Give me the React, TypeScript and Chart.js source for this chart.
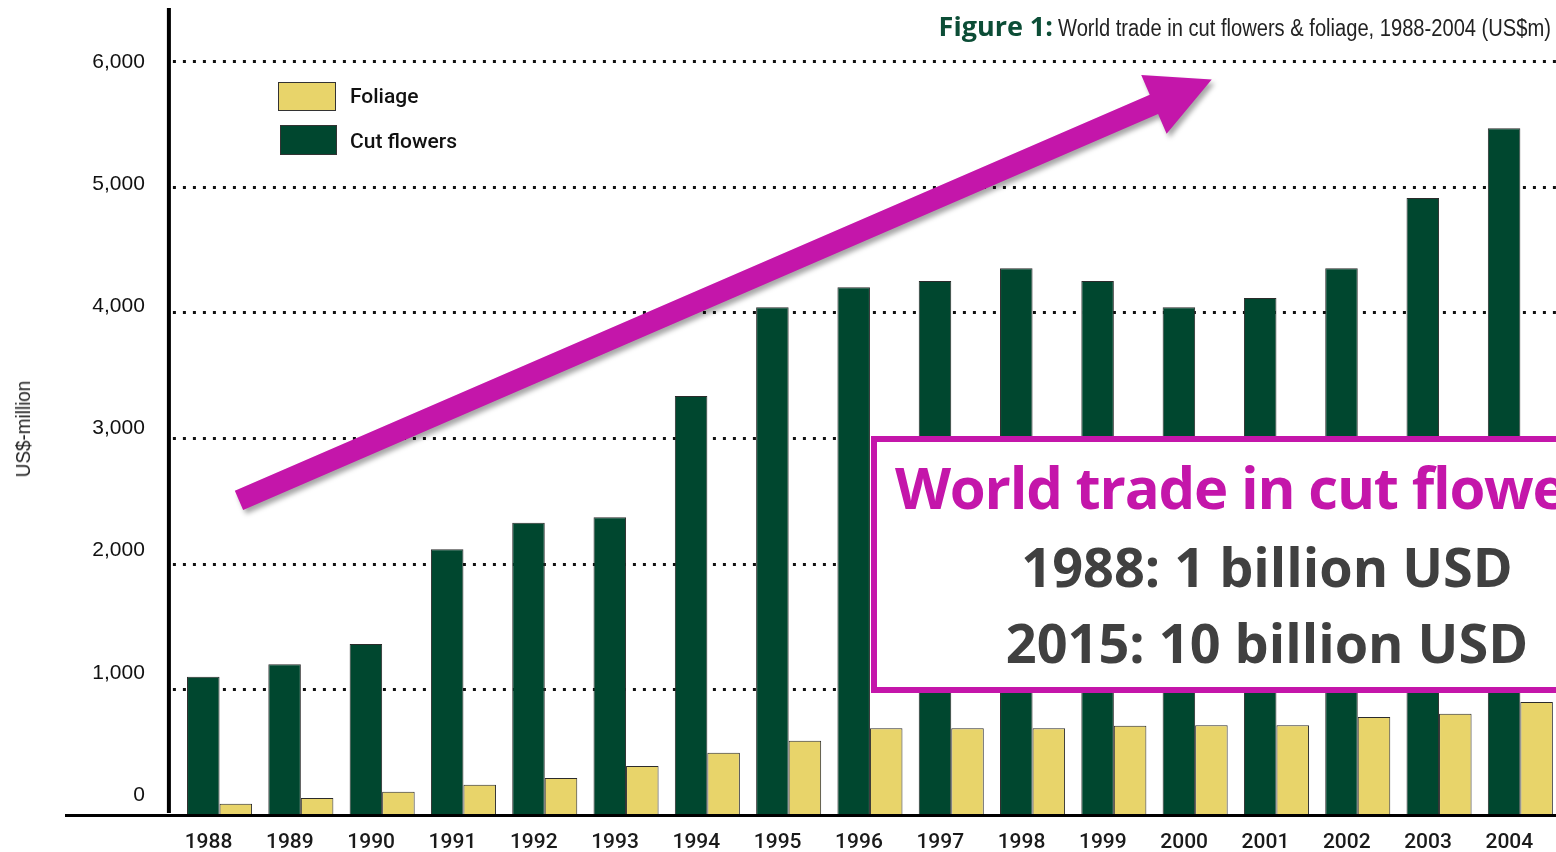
import React, { useEffect, useRef } from "react";
import { Chart, registerables } from "chart.js";

Chart.register(...registerables);

// ---------- data ----------
const YEARS = ["1988", "1989", "1990", "1991", "1992", "1993", "1994", "1995", "1996", "1997", "1998", "1999", "2000", "2001", "2002", "2003", "2004"];
const CUT_FLOWERS = [1100, 1200, 1360, 2115, 2325, 2370, 3335, 4040, 4200, 4250, 4350, 4250, 4040, 4115, 4350, 4910, 5465];
const FOLIAGE = [90, 135, 185, 240, 295, 390, 495, 590, 690, 690, 690, 710, 715, 715, 780, 805, 900];
const Y_GRID_VALUES = [1000, 2000, 3000, 4000, 5000, 6000];
const Y_TICK_LABELS = [0, 1000, 2000, 3000, 4000, 5000, 6000];
// arrow annotation in data space (category index, value)
const ARROW_FROM = { x: 0.239, y: 2504 };
const ARROW_TO = { x: 12.204, y: 5854 };

// ---------- styles ----------
const DARK = "#00472f";
const YELLOW = "#e8d46a";
const MAGENTA = "#c416aa";
const BAR_BORDER = "#2b2b2b";

const gridPlugin = {
  id: "dottedGrid",
  beforeDatasetsDraw(chart: any) {
    const { ctx, scales, chartArea } = chart;
    const y = scales.y;
    const axisX = chartArea.left - 10;
    ctx.save();
    ctx.strokeStyle = "#111";
    ctx.lineWidth = 3;
    ctx.setLineDash([3, 7]);
    for (const v of Y_GRID_VALUES) {
      const py = Math.round(y.getPixelForValue(v)) + 0.5;
      ctx.beginPath();
      ctx.moveTo(axisX + 4, py);
      ctx.lineTo(chart.width, py);
      ctx.stroke();
    }
    ctx.restore();
  },
  afterDatasetsDraw(chart: any) {
    const { ctx, scales, chartArea } = chart;
    const y = scales.y;
    const axisX = chartArea.left - 10;
    const base = y.getPixelForValue(0);
    ctx.save();
    ctx.fillStyle = "#000";
    ctx.fillRect(axisX - 2, chartArea.top, 4, base - chartArea.top - 2);
    ctx.fillRect(65, base - 1, chart.width, 3);
    ctx.restore();
  },
};

const arrowPlugin = {
  id: "arrow",
  afterDatasetsDraw(chart: any) {
    const { ctx, scales } = chart;
    const x = scales.x;
    const y = scales.y;
    const tx = x.getPixelForValue(ARROW_FROM.x);
    const ty = y.getPixelForValue(ARROW_FROM.y);
    const hx = x.getPixelForValue(ARROW_TO.x);
    const hy = y.getPixelForValue(ARROW_TO.y);
    const dx = hx - tx;
    const dy = hy - ty;
    const len = Math.hypot(dx, dy);
    const ux = dx / len;
    const uy = dy / len;
    const nx = -uy;
    const ny = ux;
    const headLen = 63;
    const headHalf = 32;
    const shaftHalf = 10.5;
    const bx = hx - ux * headLen;
    const by = hy - uy * headLen;
    ctx.save();
    ctx.shadowColor = "rgba(0,0,0,0.35)";
    ctx.shadowBlur = 5;
    ctx.shadowOffsetX = 3;
    ctx.shadowOffsetY = 4;
    ctx.fillStyle = MAGENTA;
    ctx.beginPath();
    ctx.moveTo(tx + nx * shaftHalf, ty + ny * shaftHalf);
    ctx.lineTo(bx + nx * shaftHalf, by + ny * shaftHalf);
    ctx.lineTo(bx + nx * headHalf, by + ny * headHalf);
    ctx.lineTo(hx, hy);
    ctx.lineTo(bx - nx * headHalf, by - ny * headHalf);
    ctx.lineTo(bx - nx * shaftHalf, by - ny * shaftHalf);
    ctx.lineTo(tx - nx * shaftHalf, ty - ny * shaftHalf);
    ctx.closePath();
    ctx.fill();
    ctx.restore();
  },
};

export default function App() {
  const ref = useRef<HTMLCanvasElement | null>(null);

  useEffect(() => {
    if (!ref.current) return;
    const chart = new Chart(ref.current, {
      type: "bar",
      data: {
        labels: YEARS,
        datasets: [
          {
            label: "Cut flowers",
            data: CUT_FLOWERS,
            backgroundColor: DARK,
            borderColor: BAR_BORDER,
            borderWidth: 1,
            categoryPercentage: 0.8,
            barPercentage: 1,
          },
          {
            label: "Foliage",
            data: FOLIAGE,
            backgroundColor: YELLOW,
            borderColor: BAR_BORDER,
            borderWidth: 1,
            categoryPercentage: 0.8,
            barPercentage: 1,
          },
        ],
      },
      options: {
        animation: false,
        responsive: false,
        maintainAspectRatio: false,
        layout: { padding: { top: 8, left: 0, right: 0, bottom: 0 } },
        plugins: { legend: { display: false }, tooltip: { enabled: false } },
        scales: {
          x: {
            type: "category",
            grid: { display: false },
            border: { display: false },
            ticks: {
              font: { family: "Roboto", size: 21, weight: 500 },
              color: "#1a1a1a",
              padding: 7,
              labelOffset: -11,
              maxRotation: 0,
              autoSkip: false,
            },
            afterFit: (s: any) => {
              s.height = 37;
              s.paddingLeft = 0;
              s.paddingRight = 0;
            },
          },
          y: {
            display: false,
            min: 0,
            max: 6422,
          },
          yl: {
            position: "left",
            min: -164,
            max: 6442,
            afterBuildTicks: (s: any) => {
              s.ticks = Y_TICK_LABELS.map((v) => ({ value: v }));
            },
            ticks: {
              callback: (v: any) => Number(v).toLocaleString("en-US"),
              font: { family: "Liberation Sans", size: 21 },
              color: "#111",
              padding: 34,
            },
            grid: { display: false, drawTicks: false },
            border: { display: false },
            afterFit: (s: any) => {
              s.width = 178.9;
              s.paddingTop = 0;
              s.paddingBottom = 0;
            },
          },
        },
      } as any,
      plugins: [gridPlugin, arrowPlugin],
    });
    return () => chart.destroy();
  }, []);

  return (
    <div
      style={{
        position: "fixed",
        left: 0,
        top: 0,
        width: 1556,
        height: 852,
        overflow: "hidden",
        background: "#fff",
      }}
    >
      <canvas
        ref={ref}
        width={1561}
        height={852}
        style={{ position: "absolute", left: 0, top: 0, width: 1561, height: 852 }}
      />
      {/* title */}
      <div
        style={{
          position: "absolute",
          right: 6,
          top: 9,
          whiteSpace: "nowrap",
          lineHeight: "34px",
        }}
      >
        <span style={{ fontFamily: "'Open Sans'", fontWeight: 700, fontSize: 27, color: "#0c4d36" }}>Figure 1:</span>
        <span
          style={{
            display: "inline-block",
            width: 497,
            fontFamily: "'Liberation Sans'",
            fontSize: 23,
            color: "#222",
          }}
        >
          <span style={{ display: "inline-block", transform: "scaleX(0.875)", transformOrigin: "left center", marginLeft: 5 }}>
            World trade in cut flowers &amp; foliage, 1988-2004 (US$m)
          </span>
        </span>
      </div>
      {/* legend */}
      <div style={{ position: "absolute", left: 278, top: 82, width: 58, height: 29, boxSizing: "border-box", background: YELLOW, border: "1.5px solid #333" }} />
      <div style={{ position: "absolute", left: 280, top: 125, width: 57, height: 30, boxSizing: "border-box", background: DARK, border: "1.5px solid #333" }} />
      <div style={{ position: "absolute", left: 350, top: 84, lineHeight: "24px", fontFamily: "Roboto", fontWeight: 500, fontSize: 21, color: "#111", whiteSpace: "nowrap" }}>Foliage</div>
      <div style={{ position: "absolute", left: 350, top: 129, lineHeight: "24px", fontFamily: "Roboto", fontWeight: 500, fontSize: 21, color: "#111", whiteSpace: "nowrap" }}>Cut flowers</div>
      {/* y title */}
      <div
        style={{
          position: "absolute",
          left: 23,
          top: 429,
          transform: "translate(-50%, -50%) rotate(-90deg) scaleX(0.9)",
          fontFamily: "'Liberation Sans'",
          fontSize: 21,
          color: "#222",
          whiteSpace: "nowrap",
        }}
      >
        US$-million
      </div>
      {/* annotation box */}
      <div
        style={{
          position: "absolute",
          left: 871,
          top: 436,
          width: 792,
          height: 257,
          boxSizing: "border-box",
          border: `6px solid ${MAGENTA}`,
          background: "#fff",
          fontFamily: "'Open Sans'",
          fontWeight: 700,
        }}
      >
        <div style={{ position: "absolute", left: 18, top: 16, fontSize: 58, lineHeight: "58px", letterSpacing: -1.2, color: MAGENTA, whiteSpace: "nowrap" }}>
          World trade in cut flowers
        </div>
        <div style={{ position: "absolute", left: 0, right: 0, top: 97, textAlign: "center", fontSize: 54, lineHeight: "54px", color: "#404040", whiteSpace: "nowrap" }}>
          1988: 1 billion USD
        </div>
        <div style={{ position: "absolute", left: 0, right: 0, top: 173, textAlign: "center", fontSize: 54, lineHeight: "54px", color: "#404040", whiteSpace: "nowrap" }}>
          2015: 10 billion USD
        </div>
      </div>
    </div>
  );
}
